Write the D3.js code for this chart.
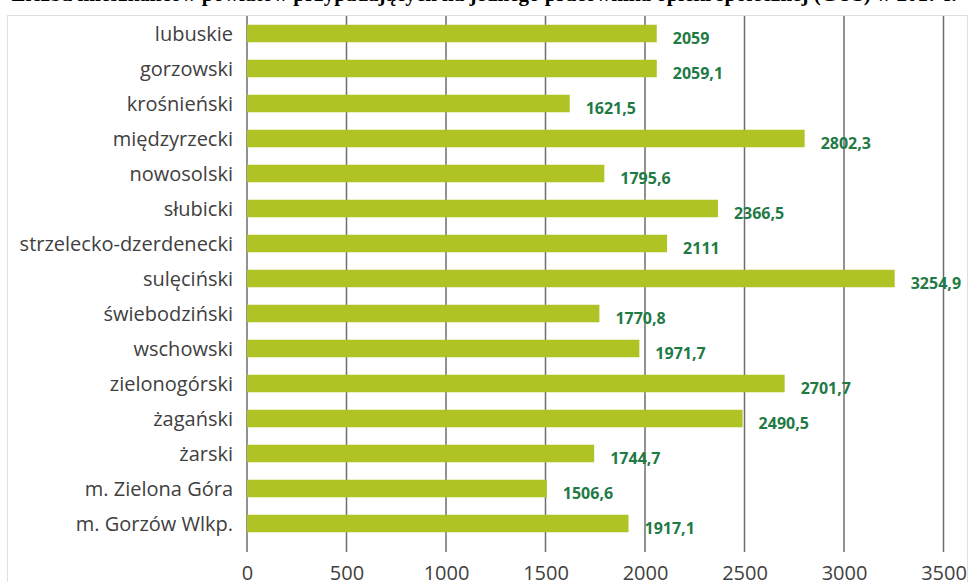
<!DOCTYPE html>
<html><head><meta charset="utf-8">
<script src="https://cdn.jsdelivr.net/npm/d3@7"></script>
<style>body{margin:0;background:#fff;} svg{display:block;}</style>
</head><body>
<svg id="c" width="969" height="582"></svg>
<script>
const title = "Liczba mieszkańców powiatów przypadających na jednego pracownika opieki społecznej (GUS) w 2017 r.";
const categories = ["lubuskie","gorzowski","krośnieński","międzyrzecki","nowosolski","słubicki","strzelecko-dzerdenecki","sulęciński","świebodziński","wschowski","zielonogórski","żagański","żarski","m. Zielona Góra","m. Gorzów Wlkp."];
const values = [2059,2059.1,1621.5,2802.3,1795.6,2366.5,2111,3254.9,1770.8,1971.7,2701.7,2490.5,1744.7,1506.6,1917.1];
const labels = ["2059","2059,1","1621,5","2802,3","1795,6","2366,5","2111","3254,9","1770,8","1971,7","2701,7","2490,5","1744,7","1506,6","1917,1"];
const ticks = [0,500,1000,1500,2000,2500,3000,3500];

const svg = d3.select("#c");
// title (cut off at the top edge in the reference)
svg.append("text").attr("x",484).attr("y",0.5).attr("text-anchor","middle")
  .attr("font-family","Liberation Serif").attr("font-weight","bold").attr("font-size",21)
  .attr("fill","#000").text(title);
// chart border
svg.append("rect").attr("x",7.5).attr("y",15.5).attr("width",960).attr("height",570)
  .attr("fill","none").attr("stroke","#e0e0e0");

const x = d3.scaleLinear().domain([0,3500]).range([247,943.5]);
const y = d3.scaleBand().domain(categories).range([16,541]).paddingInner(0.5).paddingOuter(0.25);

svg.append("g").selectAll("line").data(ticks).join("line")
  .attr("x1",d=>x(d)).attr("x2",d=>x(d)).attr("y1",16).attr("y2",552)
  .attr("stroke","#6e6e6e").attr("stroke-width",1.5);

svg.append("g").selectAll("rect").data(values).join("rect")
  .attr("x",x(0)).attr("y",(d,i)=>y(categories[i]))
  .attr("width",d=>x(d)-x(0)).attr("height",y.bandwidth())
  .attr("fill","#afc424");

svg.append("g").selectAll("text").data(values).join("text")
  .attr("x",d=>x(d)+16).attr("y",(d,i)=>y(categories[i])+y.bandwidth()/2+10)
  .attr("font-family","Open Sans").attr("font-weight","bold").attr("font-size",16)
  .attr("fill","#1f7a45").text((d,i)=>labels[i]);

svg.append("g").selectAll("text").data(categories).join("text")
  .attr("x",233).attr("y",d=>y(d)+y.bandwidth()/2+7)
  .attr("text-anchor","end").attr("font-family","Open Sans").attr("font-size",20)
  .attr("fill","#404040").text(d=>d);

const ax = d3.axisBottom(x).tickValues(ticks).tickFormat(d3.format("d")).tickSize(0).tickPadding(0);
const g = svg.append("g").attr("transform","translate(0,565)").call(ax);
g.select(".domain").remove();
g.selectAll("text").attr("font-family","Open Sans").attr("font-size",20).attr("fill","#404040")
  .attr("dy","0.35em").attr("y",7.5);
</script>
</body></html>
